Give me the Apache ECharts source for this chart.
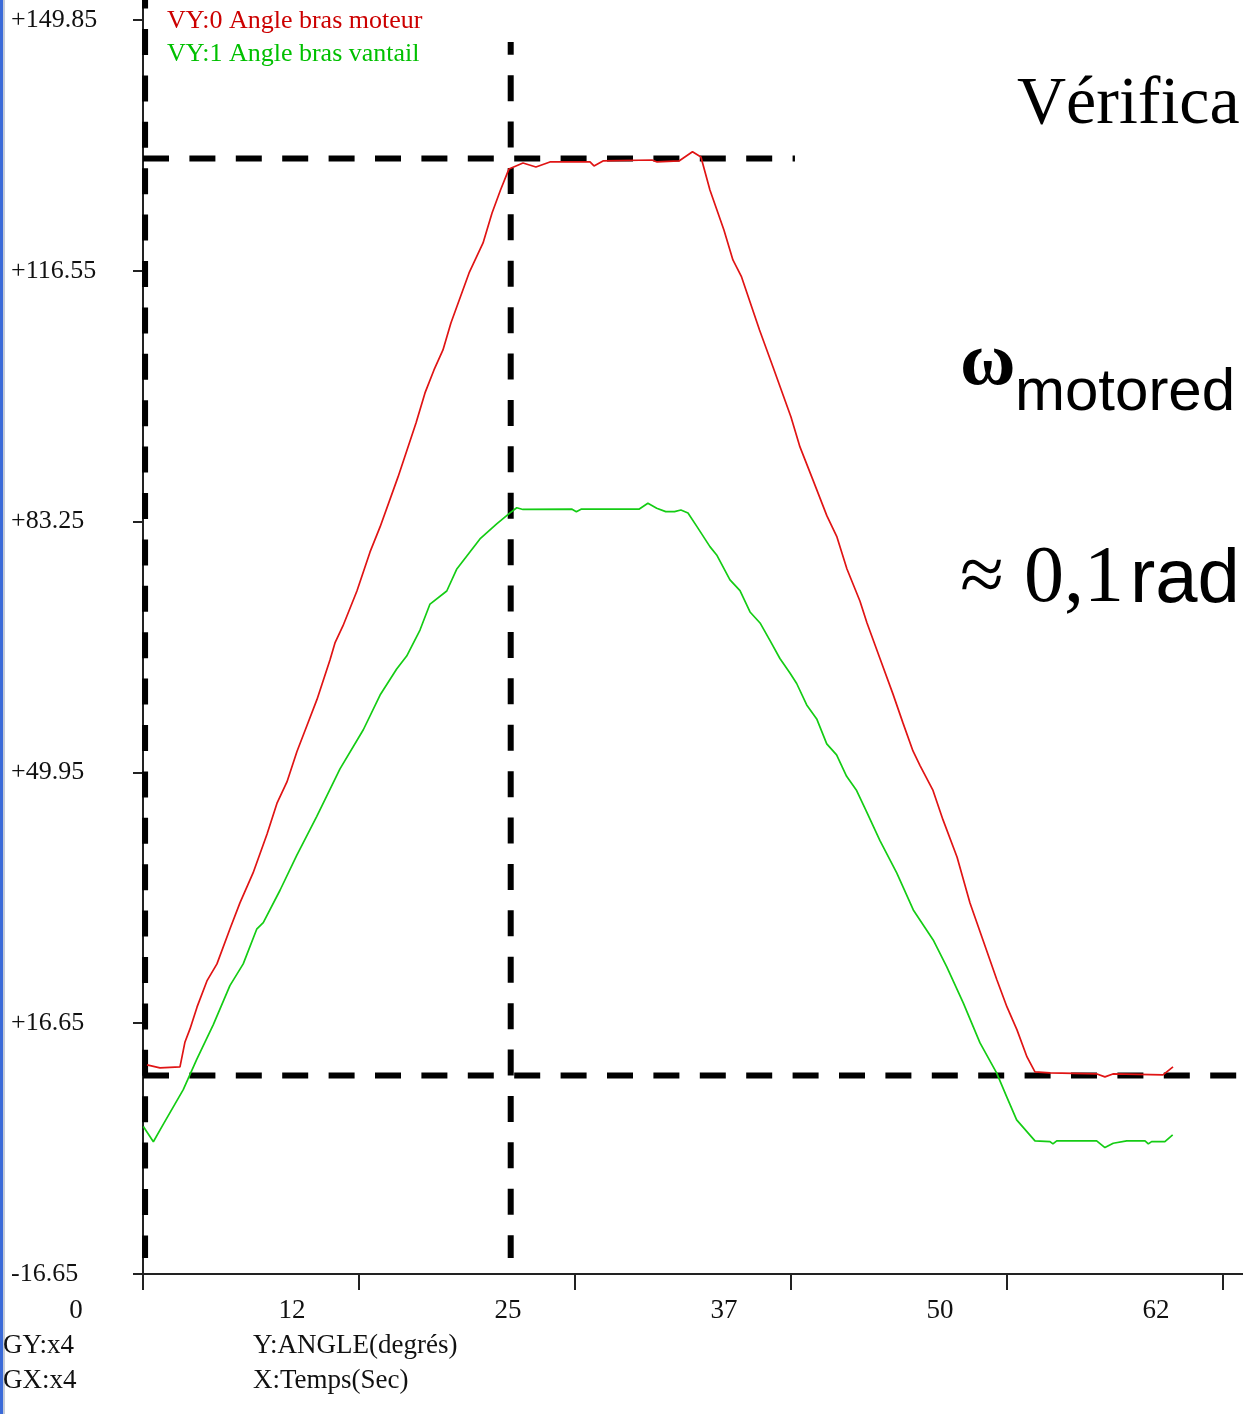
<!DOCTYPE html>
<html>
<head>
<meta charset="utf-8">
<script src="https://cdn.jsdelivr.net/npm/echarts@6/dist/echarts.min.js"></script>
<style>
html,body{margin:0;padding:0;background:#fff;}
#chart{width:1243px;height:1414px;}
</style>
</head>
<body>
<div id="chart"></div>
<script>
// ---- data (time in s, angle in degrees) ----
const redName = 'VY:0 Angle bras moteur';
const greenName = 'VY:1 Angle bras vantail';

const redTime = [0.23,0.98,2.14,2.43,2.72,3.13,3.70,4.28,5.03,5.61,6.37,7.18,7.75,8.33,8.91,9.49,10.07,10.82,11.11,11.57,12.38,13.14,13.72,14.76,15.80,16.32,16.84,17.36,17.82,18.87,19.68,20.20,20.69,21.18,21.99,22.74,23.55,25.87,26.10,26.62,29.46,29.75,31.02,31.80,32.29,32.81,33.62,34.14,34.64,35.68,36.46,37.50,38.02,38.77,39.58,40.16,40.74,41.49,41.90,42.65,43.40,43.98,44.56,44.97,45.72,46.30,47.11,47.86,48.61,49.42,50.00,50.58,51.16,51.62,52.49,55.21,55.67,56.13,59.03,59.61];
const redAngle = [11.11,10.71,10.84,14.16,15.89,18.81,22.26,24.52,29.16,32.62,36.60,41.78,45.83,48.68,52.73,56.18,59.64,64.88,67.14,69.39,74.04,79.22,82.54,89.18,96.35,100.33,103.38,106.04,109.62,116.26,120.24,124.23,127.28,130.07,130.86,130.33,131.00,131.00,130.47,131.13,131.26,131.00,131.13,132.36,131.66,127.28,121.97,117.99,115.73,108.69,103.78,97.14,93.16,88.78,84.00,81.21,76.96,72.71,69.79,65.07,60.37,56.52,52.80,50.85,47.55,43.64,38.72,32.62,27.70,22.39,18.81,15.76,12.17,10.18,10.05,9.91,9.52,9.91,9.78,10.84];

const greenTime = [0.02,0.60,1.17,2.33,3.11,4.07,5.03,5.80,6.58,6.96,7.93,8.89,10.05,11.40,12.75,13.72,14.68,15.26,16.03,16.61,17.58,18.15,19.50,20.47,21.24,21.63,21.99,24.83,25.08,25.35,28.70,29.22,29.73,30.25,30.76,31.13,31.54,32.06,32.81,33.20,33.97,34.55,35.13,35.71,36.29,36.86,37.44,37.83,38.41,38.99,39.57,40.14,40.72,41.30,41.88,42.65,43.62,44.58,45.73,46.51,47.47,48.44,49.40,49.98,50.56,51.62,52.49,52.66,52.88,55.19,55.67,56.15,56.93,57.99,58.18,58.37,59.14,59.59];
const greenAngle = [2.93,0.91,3.21,7.82,11.85,16.46,21.64,24.52,29.13,29.99,34.30,38.91,44.09,50.42,55.61,60.22,63.67,65.40,68.85,72.30,74.03,76.91,80.94,82.95,84.40,85.09,84.86,84.89,84.57,84.89,84.89,85.68,85.02,84.57,84.57,84.79,84.40,82.58,79.92,78.82,75.50,74.08,71.25,69.79,67.44,65.07,63.15,61.75,58.90,57.05,53.73,52.27,49.43,47.53,44.70,40.89,36.60,31.69,27.70,24.16,19.34,14.03,10.05,6.90,3.81,1.02,0.93,0.62,1.02,1.02,0.13,0.71,1.02,1.02,0.62,0.93,0.93,1.81];

// axis ticks and labels
const xTickValues = [0, 12.5, 25, 37.5, 50, 62.5];
const xTickLabels = ['0', '12', '25', '37', '50', '62'];
const yTickValues = [-16.65, 16.65, 49.95, 83.25, 116.55, 149.85];
const yTickLabels = ['-16.65', '+16.65', '+49.95', '+83.25', '+116.55', '+149.85'];
const xRange = [0, 63.66];
const yRange = [-16.65, 152.5];

// dashed annotation guides [time, angle]
const guideTopH = [[0, 131.46], [37.73, 131.46]];
const guideBottomH = [[0, 9.71], [63.66, 9.71]];
const guideLeftV = [[0.12, 152.5], [0.12, -14.51]];
const guideMidV = [[21.28, 146.93], [21.28, -14.51]];

const zip = (a, b) => a.map((v, i) => [v, b[i]]);

const chart = echarts.init(document.getElementById('chart'), null, {renderer: 'canvas'});

const serif = "'Liberation Serif', 'Times New Roman', serif";
const sans = "'Liberation Sans', Arial, sans-serif";

function guide(name, data, offset) {
  return {
    name: name, type: 'line', data: data, symbol: 'none', silent: true,
    animation: false, z: 1,
    lineStyle: {color: '#000', width: 6, type: [26, 20.4], dashOffset: offset, cap: 'butt'}
  };
}

const option = {
  animation: false,
  backgroundColor: '#fff',
  grid: {left: 143, right: 0, top: 0, bottom: 140, containLabel: false},
  legend: {
    orient: 'vertical', left: 157, top: 3, itemWidth: 0, itemHeight: 10, itemGap: 7,
    icon: 'rect', selectedMode: false,
    textStyle: {fontFamily: serif, fontSize: 26},
    data: [
      {name: redName, textStyle: {color: '#cc0000'}},
      {name: greenName, textStyle: {color: '#00c000'}}
    ]
  },
  xAxis: {
    type: 'value', min: xRange[0], max: xRange[1],
    splitLine: {show: false},
    axisLine: {onZero: false, lineStyle: {color: '#222', width: 2}},
    axisTick: {customValues: xTickValues, length: 16, lineStyle: {color: '#222', width: 2}},
    axisLabel: {
      customValues: xTickValues, margin: 23, color: '#111',
      fontFamily: serif, fontSize: 27, padding: [0, 134, 0, 0],
      formatter: function (v) { const i = xTickValues.indexOf(v); return i >= 0 ? xTickLabels[i] : ''; }
    }
  },
  yAxis: {
    type: 'value', min: yRange[0], max: yRange[1],
    splitLine: {show: false},
    axisLine: {onZero: false, lineStyle: {color: '#222', width: 2}},
    axisTick: {customValues: yTickValues, length: 10, lineStyle: {color: '#222', width: 2}},
    axisLabel: {
      customValues: yTickValues, margin: 132, align: 'left', color: '#111',
      fontFamily: serif, fontSize: 26,
      formatter: function (v) {
        let best = 0;
        yTickValues.forEach((t, i) => { if (Math.abs(t - v) < Math.abs(yTickValues[best] - v)) best = i; });
        return yTickLabels[best];
      }
    }
  },
  series: [
    guide('g1', guideLeftV, 17.4),
    guide('g2', guideMidV, 13.2),
    guide('g3', guideTopH, 0),
    guide('g4', guideBottomH, 0),
    {
      name: redName, type: 'line', data: zip(redTime, redAngle), symbol: 'none',
      z: 2, lineStyle: {color: '#e01414', width: 1.7}, itemStyle: {color: '#e01414'}
    },
    {
      name: greenName, type: 'line', data: zip(greenTime, greenAngle), symbol: 'none',
      z: 2, lineStyle: {color: '#14cc14', width: 1.7}, itemStyle: {color: '#14cc14'}
    }
  ],
  graphic: [
    {type: 'rect', left: 0, top: 0, shape: {width: 3, height: 1414}, style: {fill: '#3a6ad8'}, silent: true},
    {type: 'rect', left: 3, top: 0, shape: {width: 2, height: 1414}, style: {fill: '#c4cbd8'}, silent: true},
    {type: 'text', x: 3, y: 1346, style: {text: 'GY:x4', fontFamily: serif, fontSize: 27, fill: '#111', verticalAlign: 'middle'}},
    {type: 'text', x: 3, y: 1381, style: {text: 'GX:x4', fontFamily: serif, fontSize: 27, fill: '#111', verticalAlign: 'middle'}},
    {type: 'text', x: 253, y: 1346, style: {text: 'Y:ANGLE(degrés)', fontFamily: serif, fontSize: 27, fill: '#111', verticalAlign: 'middle'}},
    {type: 'text', x: 253, y: 1381, style: {text: 'X:Temps(Sec)', fontFamily: serif, fontSize: 27, fill: '#111', verticalAlign: 'middle'}},
    {type: 'text', x: 1017, y: 105, style: {text: 'Vérifica', fontFamily: serif, fontSize: 68, fill: '#000', verticalAlign: 'middle'}},
    {type: 'text', x: 960, y: 364, style: {text: 'ω', fontFamily: serif, fontSize: 76, fontWeight: 'bold', fill: '#000', verticalAlign: 'middle'}},
    {type: 'text', x: 1015, y: 393, style: {text: 'motored', fontFamily: sans, fontSize: 60, fill: '#000', verticalAlign: 'middle'}},
    {type: 'text', x: 960, y: 580, style: {text: '≈ 0,1', fontFamily: serif, fontSize: 80, fill: '#000', verticalAlign: 'middle'}},
    {type: 'text', x: 1130, y: 581, style: {text: 'rad', fontFamily: sans, fontSize: 76, fill: '#000', verticalAlign: 'middle'}}
  ]
};
chart.setOption(option);
</script>
</body>
</html>
